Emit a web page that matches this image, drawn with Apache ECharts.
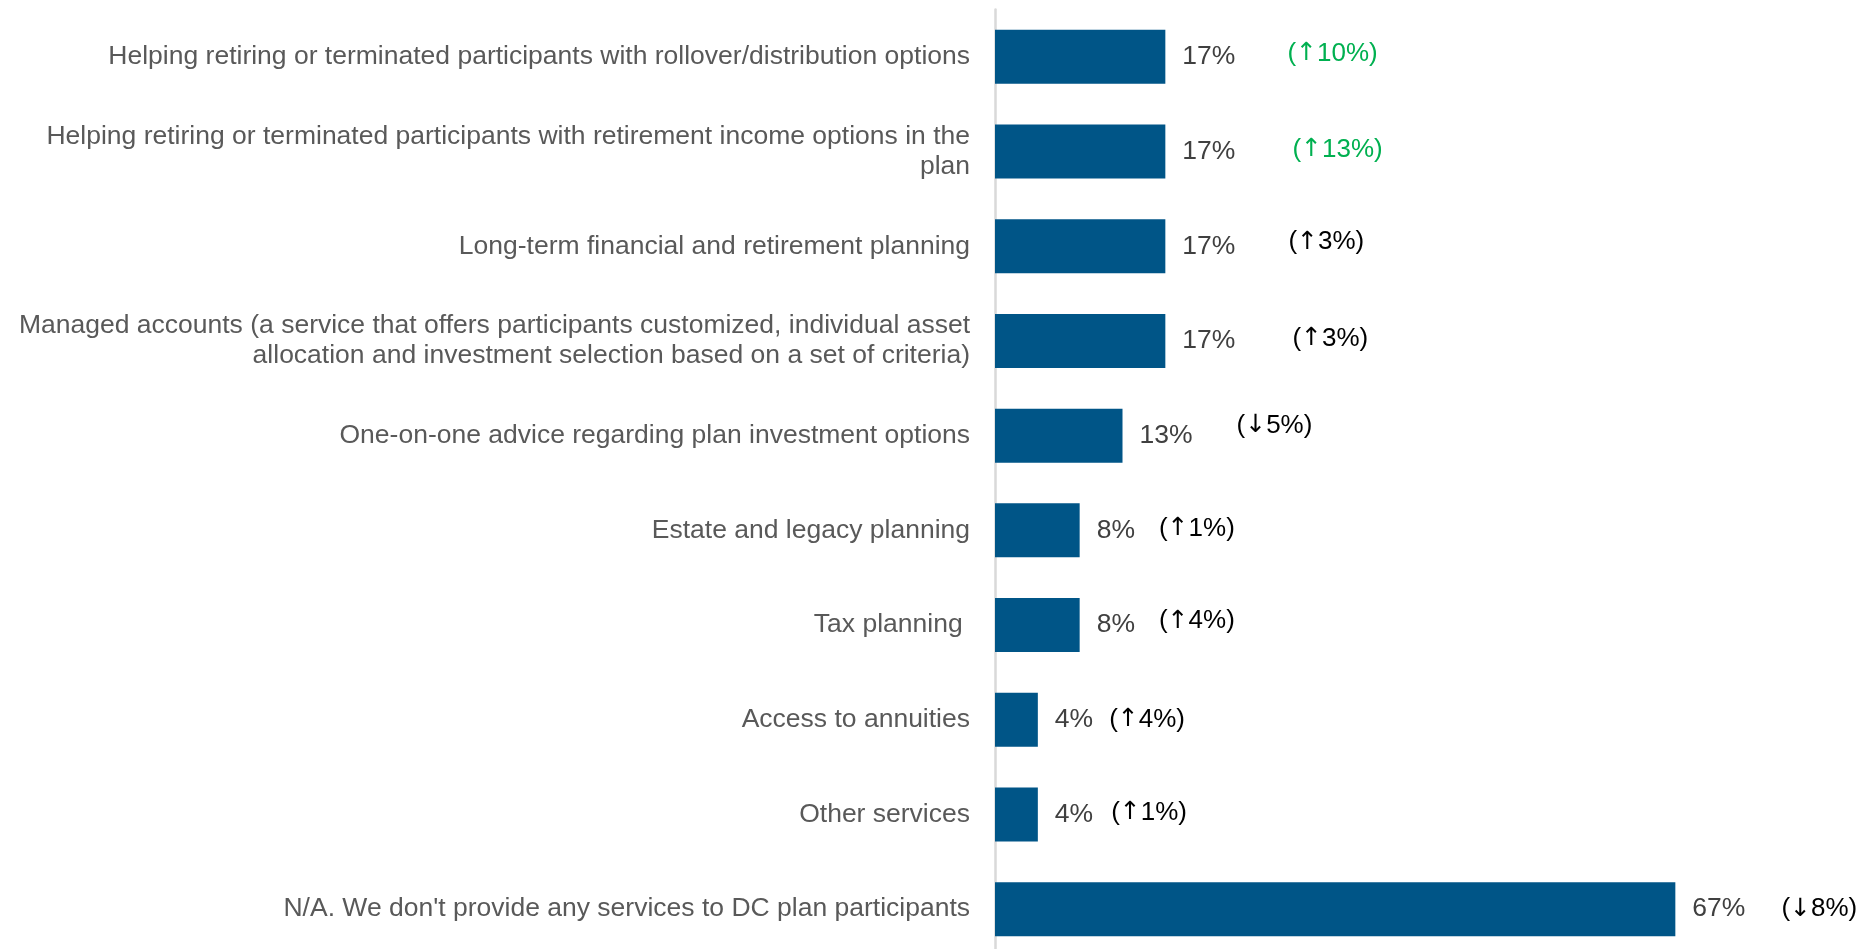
<!DOCTYPE html>
<html>
<head>
<meta charset="utf-8">
<script src="https://cdn.jsdelivr.net/npm/echarts@6/dist/echarts.min.js"></script>
<style>
  html, body { margin: 0; padding: 0; background: #ffffff; overflow: hidden; }
  #chart { width: 1870px; height: 970px; }
</style>
</head>
<body>
<div id="chart"></div>
<script>
// ---- data ----
const categories = [
  'Helping retiring or terminated participants with rollover/distribution options',
  'Helping retiring or terminated participants with retirement income options in the\nplan',
  'Long-term financial and retirement planning',
  'Managed accounts (a service that offers participants customized, individual asset\nallocation and investment selection based on a set of criteria)',
  'One-on-one advice regarding plan investment options',
  'Estate and legacy planning',
  'Tax planning ',
  'Access to annuities',
  'Other services',
  "N/A. We don't provide any services to DC plan participants"
];
const shares = [16.7, 16.7, 16.7, 16.7, 12.5, 8.3, 8.3, 4.2, 4.2, 66.7];
const changeArrows = ['↑', '↑', '↑', '↑', '↓', '↑', '↑', '↑', '↑', '↓'];
const changeValues = [10, 13, 3, 3, 5, 1, 4, 4, 1, 8];
const highlighted = [true, true, false, false, false, false, false, false, false, false];

// ---- layout / style (not data) ----
const noteGap = [52, 57, 53, 57, 44, 24, 24, 16, 18, 36];
const noteLift = [3, 2, 4, 2, 10, 2, 4, 0, 2, 0];
const FONT = '"Liberation Sans", Arial, Helvetica, sans-serif';
const ARROW_FONT = '"DejaVu Sans ExtraLight", "DejaVu Sans", "Liberation Sans", sans-serif';

const rich = {
  v: { fontFamily: FONT, fontSize: 26.5, color: '#404040', lineHeight: 30 }
};
shares.forEach((_, i) => {
  const col = highlighted[i] ? '#00B050' : '#000000';
  const pad = [0, 0, noteLift[i] * 2, 0];
  rich['g' + i] = { width: noteGap[i], height: 2 };
  rich['n' + i] = { fontFamily: FONT, fontSize: 26, lineHeight: 30, color: col, padding: pad };
  rich['a' + i] = { fontFamily: ARROW_FONT, fontSize: 25, lineHeight: 30, color: col, padding: pad };
});

const chart = echarts.init(document.getElementById('chart'), null, { renderer: 'canvas' });
chart.setOption({
  animation: false,
  backgroundColor: '#ffffff',
  grid: { left: 995, top: 9.5, width: 816, height: 947, containLabel: false },
  xAxis: {
    type: 'value', min: 0, max: 80, show: false,
    splitLine: { show: false }
  },
  yAxis: {
    type: 'category', inverse: true, data: categories,
    axisLine: { show: true, lineStyle: { color: '#D9D9D9', width: 2.5 } },
    axisTick: { show: false },
    axisLabel: {
      margin: 25, fontFamily: FONT, fontSize: 26.5, color: '#595959',
      lineHeight: 30, align: 'right'
    }
  },
  series: [{
    type: 'bar',
    barWidth: 54,
    itemStyle: { color: '#005587' },
    data: shares.map((v, i) => ({
      value: v,
      label: {
        show: true, position: 'right', distance: 17,
        formatter: () => '{v|' + Math.round(v) + '%}{g' + i + '|}{n' + i + '|(}{a' + i + '|' +
          changeArrows[i] + '}{n' + i + '|' + changeValues[i] + '%)}',
        rich: rich
      }
    }))
  }]
});
</script>
</body>
</html>
